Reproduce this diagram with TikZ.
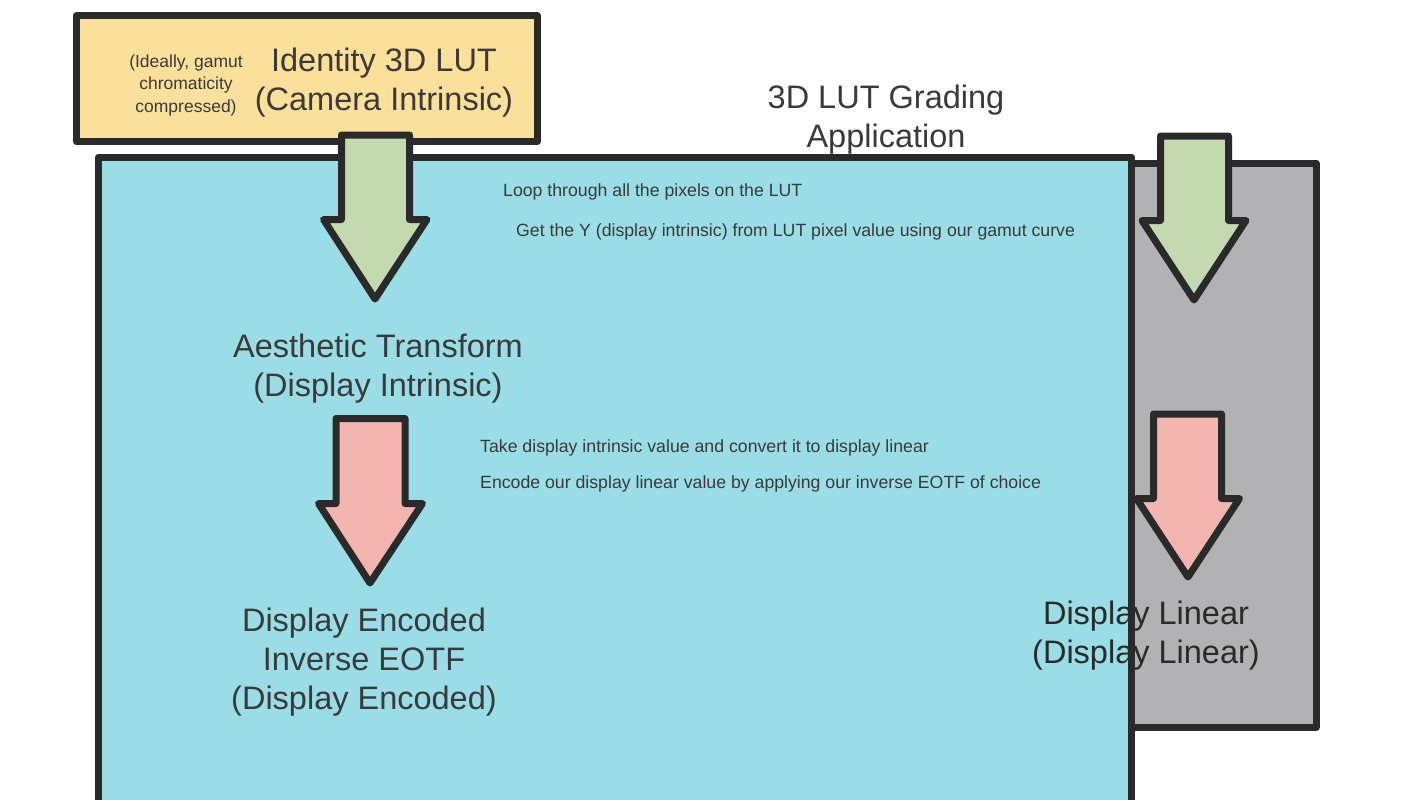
\documentclass[tikz,border=0pt]{standalone}
\usepackage{fontspec}
\setmainfont{Liberation Sans}
\definecolor{edge}{HTML}{2A2A2A}
\definecolor{txt}{HTML}{3A3A3A}
\definecolor{yel}{HTML}{FBE09C}
\definecolor{cyanbox}{HTML}{9ADDE6}
\definecolor{graybox}{HTML}{B2B2B4}
\definecolor{grn}{HTML}{C3DAB0}
\definecolor{rd}{HTML}{F3B5B0}
\tikzset{
  panel/.style={draw=edge, line width=7pt, line join=round},
  blockarrow/.style={draw=edge, line width=7pt, line join=round},
  bigtext/.style={text=txt, font=\fontsize{32.5}{39}\selectfont, align=center, inner sep=0pt},
  smalltext/.style={text=txt, font=\fontsize{17.5}{22.5}\selectfont, align=center, inner sep=0pt},
  note/.style={text=txt, font=\fontsize{17.7}{20}\selectfont, anchor=west, inner sep=0pt},
}
\begin{document}
\begin{tikzpicture}[x=1pt,y=-1pt]
\useasboundingbox (0,0) rectangle (1422,800);
\clip (0,0) rectangle (1422,800);
\fill[white] (0,0) rectangle (1422,800);
% panels
\draw[panel, fill=graybox] (1131,163) rectangle (1316,727);
\draw[panel, fill=cyanbox] (98.5,157) rectangle (1131.5,830);
\draw[panel, fill=yel] (76,16) rectangle (537.5,141.5);
% block arrows
\draw[blockarrow, fill=grn] (341.5,135) -- (409.5,135) -- (409.5,219.5) -- (427,219.5)
  -- (375,299) -- (323.5,219.5) -- (341.5,219.5) -- cycle;
\draw[blockarrow, fill=grn] (1160.5,136) -- (1228.5,136) -- (1228.5,220.5) -- (1246,220.5)
  -- (1194,300) -- (1142,220.5) -- (1160.5,220.5) -- cycle;
\draw[blockarrow, fill=rd] (336,418.5) -- (405,418.5) -- (405,503.5) -- (422.5,503.5)
  -- (370,583) -- (318.5,503.5) -- (336,503.5) -- cycle;
\draw[blockarrow, fill=rd] (1153.5,414) -- (1221.5,414) -- (1221.5,498.5) -- (1239.5,498.5)
  -- (1188,577) -- (1136.5,498.5) -- (1153.5,498.5) -- cycle;
% texts
\node[smalltext] (ideal) at (186,85) {(Ideally, gamut\\chromaticity\\compressed)};
\node[bigtext] (lut) at (384,83) {Identity 3D LUT\\(Camera Intrinsic)};
\node[bigtext] (app) at (886,119.5) {3D LUT Grading\\Application};
\node[note] (loop) at (503,192) {Loop through all the pixels on the LUT};
\node[note] (gety) at (516,232) {Get the Y (display intrinsic) from LUT pixel value using our gamut curve};
\node[bigtext] (aes) at (378,369) {Aesthetic Transform\\(Display Intrinsic)};
\node[note] (take) at (480,448) {Take display intrinsic value and convert it to display linear};
\node[note] (enc) at (480,484) {Encode our display linear value by applying our inverse EOTF of choice};
\node[bigtext] (denc) at (364,662) {Display Encoded\\Inverse EOTF\\(Display Encoded)};
\node[bigtext, text=edge] (dlin) at (1146,636) {Display Linear\\(Display Linear)};
\end{tikzpicture}
\end{document}
